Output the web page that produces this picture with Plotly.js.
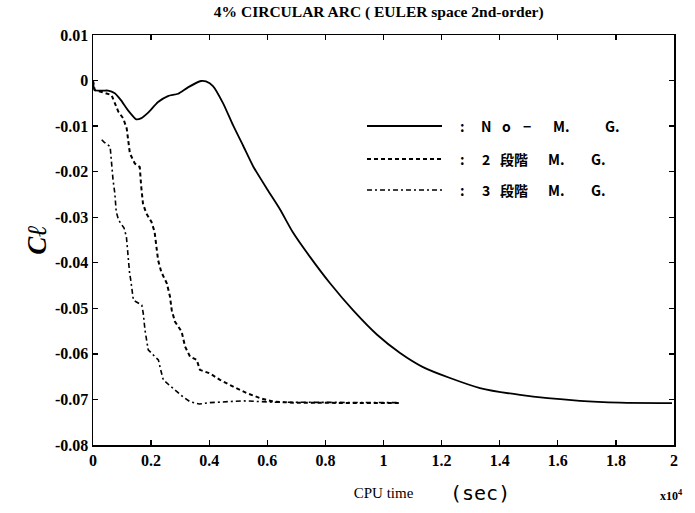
<!DOCTYPE html>
<html><head><meta charset="utf-8">
<script src="https://cdn.plot.ly/plotly-3.0.1.min.js"></script>
<style>html,body{margin:0;padding:0;background:#fff}</style>
</head><body><div id="chart" style="width:695px;height:513px"></div>
<script>
// ---- data ----
const noMG_x = [0, 0.006, 0.034, 0.052, 0.075, 0.096, 0.120, 0.149, 0.165, 0.189, 0.224, 0.258, 0.293, 0.327, 0.372, 0.389, 0.413, 0.448, 0.482, 0.516, 0.551, 0.599, 0.644, 0.688, 0.747, 0.816, 0.895, 0.978, 1.057, 1.136, 1.229, 1.332, 1.470, 1.676, 1.814, 1.993];
const noMG_y = [0, -0.0021, -0.0022, -0.0022, -0.0028, -0.0043, -0.0065, -0.0085, -0.0083, -0.0071, -0.0047, -0.0034, -0.0029, -0.0015, -0.0001, -0.0002, -0.0012, -0.005, -0.0098, -0.0142, -0.0188, -0.0238, -0.0283, -0.0333, -0.0387, -0.0445, -0.0504, -0.0558, -0.0598, -0.0629, -0.0653, -0.0675, -0.069, -0.0703, -0.0707, -0.0708];

const mg2_x = [0, 0.006, 0.035, 0.064, 0.087, 0.104, 0.116, 0.127, 0.144, 0.161, 0.166, 0.172, 0.183, 0.201, 0.212, 0.218, 0.224, 0.235, 0.244, 0.254, 0.265, 0.271, 0.282, 0.305, 0.317, 0.334, 0.357, 0.368, 0.403, 0.437, 0.483, 0.529, 0.575, 0.621, 0.688, 0.80, 0.95, 1.063];
const mg2_y = [0, -0.0021, -0.0026, -0.0032, -0.0068, -0.0083, -0.0105, -0.016, -0.0182, -0.019, -0.0233, -0.027, -0.0291, -0.031, -0.0332, -0.0365, -0.0394, -0.042, -0.0432, -0.0445, -0.0474, -0.0504, -0.0529, -0.0551, -0.0584, -0.0606, -0.0613, -0.0635, -0.0643, -0.0657, -0.0672, -0.0686, -0.0697, -0.0705, -0.0707, -0.0708, -0.0708, -0.0708];

const mg3_x = [0.030, 0.038, 0.059, 0.063, 0.069, 0.075, 0.077, 0.080, 0.088, 0.107, 0.115, 0.120, 0.126, 0.130, 0.134, 0.139, 0.168, 0.173, 0.179, 0.185, 0.190, 0.213, 0.225, 0.233, 0.242, 0.265, 0.288, 0.311, 0.334, 0.366, 0.403, 0.460, 0.517, 0.621, 0.80, 1.05];
const mg3_y = [-0.013, -0.0135, -0.0145, -0.0178, -0.0218, -0.0247, -0.0266, -0.0288, -0.0306, -0.0324, -0.0343, -0.0383, -0.0423, -0.0438, -0.0463, -0.0482, -0.0493, -0.0511, -0.0548, -0.0577, -0.0591, -0.0606, -0.0613, -0.0635, -0.0657, -0.067, -0.0683, -0.0695, -0.0705, -0.071, -0.0707, -0.0705, -0.0703, -0.0706, -0.0707, -0.0707];

const seriesNames = ["No−M.G.", "2段階M.G.", "3段階M.G."];
// legend label pieces (spread out as in the reference)
const legendPieces = [
  [":", "N", "o", "−", "M.", "G."],
  [":", "2", "段階", "M.", "G."],
  [":", "3", "段階", "M.", "G."]
];
const xTickVals = [0, 0.2, 0.4, 0.6, 0.8, 1, 1.2, 1.4, 1.6, 1.8, 2];
const xTickText = ["0", "0.2", "0.4", "0.6", "0.8", "1", "1.2", "1.4", "1.6", "1.8", "2"];
const yTickVals = [0.01, 0, -0.01, -0.02, -0.03, -0.04, -0.05, -0.06, -0.07, -0.08];
const yTickText = ["0.01", "0", "-0.01", "-0.02", "-0.03", "-0.04", "-0.05", "-0.06", "-0.07", "-0.08"];

const serif = "Liberation Serif, Times New Roman, serif";
const jp = "Noto Sans CJK JP, sans-serif";

const lineStyles = [
  {color: "#000", width: 1.8, dash: "solid"},
  {color: "#000", width: 2, dash: "4px,3px"},
  {color: "#000", width: 1.6, dash: "5px,3px,2px,3px"}
];

const traces = [
  {x: noMG_x, y: noMG_y, mode: "lines", line: Object.assign({shape: "spline", smoothing: 0.6}, lineStyles[0]), name: seriesNames[0], showlegend: false},
  {x: mg2_x, y: mg2_y, mode: "lines", line: lineStyles[1], name: seriesNames[1], showlegend: false},
  {x: mg3_x, y: mg3_y, mode: "lines", line: lineStyles[2], name: seriesNames[2], showlegend: false}
];

// legend drawn in paper space
const L = 93, R = 674, T = 35, B = 445;
const px = v => (v - L) / (R - L);
const py = v => (B - v) / (B - T);
const legRows = [126, 159, 190];
const pieceX = [
  [462, 486, 506, 527, 561, 612],
  [462, 486, 514, 556, 598],
  [462, 486, 514, 556, 598]
];
const shapes = [];
const annotations = [];
legRows.forEach((ry, i) => {
  shapes.push({type: "line", xref: "paper", yref: "paper", x0: px(367), x1: px(442), y0: py(ry), y1: py(ry),
    line: {color: "#000", width: lineStyles[i].width, dash: lineStyles[i].dash}});
  legendPieces[i].forEach((t, j) => {
    annotations.push({xref: "paper", yref: "paper", x: px(pieceX[i][j]), y: py(ry), xanchor: "center", yanchor: "middle",
      text: "<b>" + t + "</b>", showarrow: false, font: {family: jp, size: 14, color: "#000"}});
  });
});
annotations.push({xref: "paper", yref: "paper", x: px(480), y: py(493), xanchor: "center", yanchor: "middle",
  text: "(sec)", showarrow: false, font: {family: "DejaVu Sans Mono, monospace", size: 20, color: "#000"}});
annotations.push({xref: "paper", yref: "paper", x: px(671), y: py(495), xanchor: "center", yanchor: "middle",
  text: "<b>x10<sup>4</sup></b>", showarrow: false, font: {family: serif, size: 12, color: "#000"}});

const axisCommon = {
  showgrid: false, zeroline: false, showline: true, mirror: "ticks", linecolor: "#000", linewidth: 1.5,
  ticks: "inside", ticklen: 5, tickwidth: 1.3, tickcolor: "#000",
  tickfont: {family: serif, size: 16, color: "#000", weight: "bold"}
};

const layout = {
  width: 695, height: 513,
  margin: {l: L, r: 695 - R, t: T, b: 513 - B},
  paper_bgcolor: "#fff", plot_bgcolor: "#fff",
  title: {text: "<b>4% CIRCULAR ARC ( EULER space 2nd-order)</b>", x: 0.545, xanchor: "center", y: 0.977, yanchor: "middle",
    font: {family: serif, size: 15.5, color: "#000"}},
  xaxis: Object.assign({}, axisCommon, {range: [0, 2], tickvals: xTickVals, ticktext: xTickText,
    title: {text: "CPU time", font: {family: serif, size: 15, color: "#000"}, standoff: 20}}),
  yaxis: Object.assign({}, axisCommon, {range: [-0.08, 0.01], tickvals: yTickVals, ticktext: yTickText,
    title: {text: "<b><i>Cℓ</i></b>", font: {family: serif, size: 27, color: "#000"}, standoff: 0}}),
  shapes: shapes,
  annotations: annotations,
  showlegend: false
};

Plotly.newPlot("chart", traces, layout, {displayModeBar: false, staticPlot: true});
</script>
</body></html>
